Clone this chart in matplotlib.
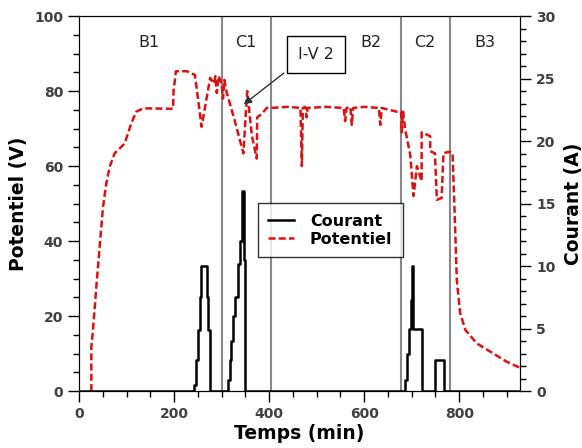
import numpy as np
import matplotlib.pyplot as plt
from matplotlib.ticker import MultipleLocator

# potential (V), left axis
pot_t = [26, 26, 29.5, 36, 43.5, 50.5, 57.5, 64.6, 75, 96, 110, 120.6, 135, 187, 198, 199, 204, 227, 244,
         258, 276, 284, 287, 290, 294, 300, 303, 306, 310, 328, 346, 350, 354, 358, 364, 374, 375,
         385, 395, 402, 440, 466, 469, 471, 476, 479, 481, 520, 557, 560, 563, 571, 574, 577, 600,
         631, 634, 637, 669, 678, 679, 682, 686, 697, 704, 711, 721, 721, 739, 739, 749, 753, 763,
         767, 781, 786, 790, 795, 802, 813, 837, 872, 900, 928]
pot_v = [0, 11.8, 16.3, 27, 38.5, 49, 55.4, 59.8, 63.4, 66, 71.4, 74.5, 75.4, 75.3, 75.3, 80, 85.3, 85.3, 84.3,
         70.5, 83.5, 82, 84, 79.5, 84, 82, 78, 83, 80, 72, 63.4, 72, 80, 75, 68, 62, 73,
         74, 75.5, 75.5, 75.8, 75.5, 60, 75.5, 75.8, 73, 75.5, 75.8, 75.5, 72, 75.5, 75.8, 71, 75.5, 75.8,
         75.5, 71, 75.5, 74.5, 74.5, 69, 74.5, 70, 63, 52, 60, 56, 69, 68, 64, 63.4, 51, 51.5,
         63.5, 63.8, 63.5, 49, 29.6, 20.8, 16.3, 12.7, 10, 7.8, 6.2]

# current (A), right axis, step values held until next time
cur_t = [0, 243, 247, 251, 254, 257, 269, 272, 276, 314, 317, 320, 324, 329, 335, 339, 342, 344,
         347, 350, 686, 690, 695, 699, 701, 703, 721, 749, 767, 930]
cur_a = [0, 0.5, 2.5, 4.9, 7.5, 10, 7.5, 4.9, 0, 0.9, 2.5, 4, 6, 7.5, 10.2, 12, 14, 16,
         10.5, 0, 0.9, 3, 5, 7.3, 10, 5, 0, 2.5, 0, 0]

zones = ['B1', 'C1', 'B2', 'C2', 'B3']
zone_x = [147, 351, 615, 728, 855]
borders = [300, 405, 677, 780]

tick_col = '#404040'

fig, ax = plt.subplots(figsize=(5.82, 4.48), dpi=100)
plt.subplots_adjust(left=0.1357, right=0.8935, top=0.964, bottom=0.1272)
ax2 = ax.twinx()

for b in borders:
    ax.axvline(b, color='#888888', lw=1.5, zorder=1)
for name, x in zip(zones, zone_x):
    ax.text(x, 93, name, ha='center', va='center', fontsize=11.5, color='#222222')

l_pot, = ax.plot(pot_t, pot_v, color='#dd1111', lw=1.8, dashes=(2.8, 1.3), label='Potentiel', zorder=3)
l_cur, = ax2.plot(cur_t, cur_a, color='black', lw=1.8, drawstyle='steps-post', label='Courant')

ax.set_xlim(0, 928)
ax.set_ylim(0, 100)
ax2.set_ylim(0, 30)

ax.xaxis.set_major_locator(MultipleLocator(200))
ax.xaxis.set_minor_locator(MultipleLocator(50))
ax.yaxis.set_major_locator(MultipleLocator(20))
ax.yaxis.set_minor_locator(MultipleLocator(5))
ax2.yaxis.set_major_locator(MultipleLocator(5))
ax2.yaxis.set_minor_locator(MultipleLocator(1))

for a in (ax, ax2):
    a.tick_params(which='major', length=8, width=1, colors='black', labelcolor=tick_col, labelsize=10)
    a.tick_params(which='minor', length=4.5, width=1, colors='black')
    for lab in a.get_xticklabels() + a.get_yticklabels():
        lab.set_fontweight('bold')

ax.set_xlabel('Temps (min)', fontsize=13.5, fontweight='bold', labelpad=2)
ax.set_ylabel('Potentiel (V)', fontsize=13.5, fontweight='bold', labelpad=4.5)
ax2.set_ylabel('Courant (A)', fontsize=13.5, fontweight='bold', labelpad=6)

ax.annotate('I-V 2', xy=(342, 76), xytext=(498, 89.7), fontsize=11.5, ha='center', va='center',
            color='#222222',
            bbox=dict(boxstyle='square,pad=0.7', fc='white', ec='black', lw=1),
            arrowprops=dict(arrowstyle='-|>', color='#333333', lw=1, relpos=(0, 0)))

leg = ax2.legend([l_cur, l_pot], ['Courant', 'Potentiel'], loc='upper left',
                 bbox_to_anchor=(0.406, 0.501), borderaxespad=0, fancybox=False, edgecolor='black',
                 prop={'weight': 'bold', 'size': 11.5}, handlelength=1.6, handletextpad=1.0,
                 borderpad=0.65, labelspacing=0.2)
leg.get_frame().set_linewidth(1)

plt.savefig('out.png', dpi=100)
